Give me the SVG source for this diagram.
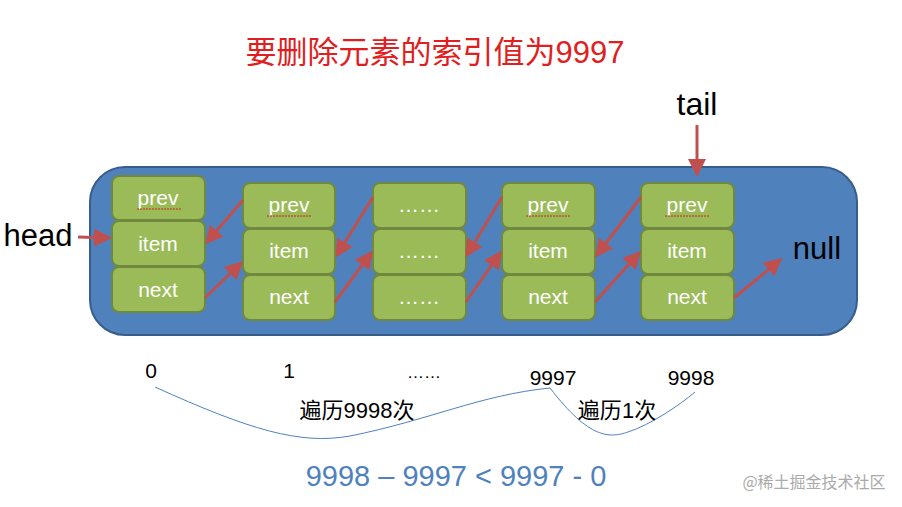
<svg xmlns="http://www.w3.org/2000/svg" width="902" height="507" viewBox="0 0 902 507">
<style>
.c{fill:#9bbb59;stroke:#71893f;stroke-width:2}
.t{font-family:"Liberation Sans","Noto Sans CJK SC",sans-serif;fill:#fff;font-size:21px;text-anchor:middle}
.a{stroke:#c0504d;stroke-width:3;fill:none;marker-end:url(#m)}
.k{font-family:"Liberation Sans","Noto Sans CJK SC",sans-serif;fill:#000;text-anchor:middle}
.sq{stroke:#d02020;stroke-width:1;fill:none;stroke-dasharray:2 1}
</style>
<defs><marker id="m" markerWidth="6" markerHeight="6" refX="5" refY="3" orient="auto"><path d="M0,0L6,3L0,6z" fill="#c0504d"/></marker></defs>
<rect width="902" height="507" fill="#fff"/>
<text x="435" y="63" font-size="31" fill="#e02020" text-anchor="middle" font-family="'Noto Sans CJK SC',sans-serif">要删除元素的索引值为<tspan font-family="'Liberation Sans',sans-serif">9997</tspan></text>
<rect id="container" x="90" y="167" width="767" height="168" rx="35" fill="#4f81bd" stroke="#385d8a" stroke-width="2"/>
<g id="n0"><rect class="c" x="112" y="176" width="93" height="44" rx="7"/><rect class="c" x="112" y="221" width="93" height="45" rx="7"/><rect class="c" x="112" y="267" width="93" height="45" rx="7"/>
<text class="t" x="158" y="205">prev</text><text class="t" x="158" y="251">item</text><text class="t" x="158" y="297">next</text><path class="sq" d="M137,209h44"/></g>
<g id="n1"><rect class="c" x="243" y="183" width="92" height="45" rx="7"/><rect class="c" x="243" y="229" width="92" height="45" rx="7"/><rect class="c" x="243" y="275" width="92" height="45" rx="7"/>
<text class="t" x="289" y="212">prev</text><text class="t" x="289" y="258" font-size="18">item</text><text class="t" x="289" y="304">next</text><path class="sq" d="M267,216h44"/></g>
<g id="n2"><rect class="c" x="373" y="183" width="93" height="45" rx="7"/><rect class="c" x="373" y="229" width="93" height="45" rx="7"/><rect class="c" x="373" y="275" width="93" height="45" rx="7"/>
<text class="t" x="419" y="212" font-size="16">……</text><text class="t" x="419" y="258" font-size="14">……</text><text class="t" x="419" y="304" font-size="16">……</text></g>
<g id="n3"><rect class="c" x="502" y="183" width="93" height="45" rx="7"/><rect class="c" x="502" y="229" width="93" height="45" rx="7"/><rect class="c" x="502" y="275" width="93" height="45" rx="7"/>
<text class="t" x="548" y="212">prev</text><text class="t" x="548" y="258" font-size="18">item</text><text class="t" x="548" y="304">next</text><path class="sq" d="M526,216h44"/></g>
<g id="n4"><rect class="c" x="641" y="183" width="93" height="45" rx="7"/><rect class="c" x="641" y="229" width="93" height="45" rx="7"/><rect class="c" x="641" y="275" width="93" height="45" rx="7"/>
<text class="t" x="687" y="212">prev</text><text class="t" x="687" y="258" font-size="18">item</text><text class="t" x="687" y="304">next</text><path class="sq" d="M665,216h44"/></g>
<text class="k" x="38" y="246" font-size="31">head</text>
<text class="k" x="697" y="115" font-size="32">tail</text>
<text class="k" x="817" y="259" font-size="31">null</text>
<g id="connectors">
<path class="a" d="M78,237L109,238"/>
<path class="a" d="M697,125L697,174"/>
<path class="a" d="M243,200L207,242"/>
<path class="a" d="M205,298L241,263"/>
<path class="a" d="M373,197L337,255"/>
<path class="a" d="M335,302L371,253"/>
<path class="a" d="M502,197L467,255"/>
<path class="a" d="M466,302L500,253"/>
<path class="a" d="M641,197L597,255"/>
<path class="a" d="M595,302L639,253"/>
<path class="a" d="M734,298L780,260"/>
<path d="M155,387C250,430 300,445 350,436C430,420 480,395 550,388" fill="none" stroke="#4f81bd" stroke-width="1"/>
<path d="M550,388C590,440 610,438 628,432C650,425 680,405 695,392" fill="none" stroke="#4f81bd" stroke-width="1"/>
</g>
<g><text class="k" x="151" y="378" font-size="21">0</text><text class="k" x="289" y="378" font-size="21">1</text><text class="k" x="424" y="378" font-size="17">……</text><text class="k" x="553" y="385" font-size="21">9997</text><text class="k" x="691" y="385" font-size="21">9998</text></g>
<text class="k" x="357" y="418" font-size="22" font-family="'Noto Sans CJK SC',sans-serif">遍历<tspan font-family="'Liberation Sans',sans-serif">9998</tspan>次</text>
<text class="k" x="617" y="418" font-size="22" font-family="'Noto Sans CJK SC',sans-serif">遍历<tspan font-family="'Liberation Sans',sans-serif">1</tspan>次</text>
<text x="456" y="486" font-size="29" fill="#4f81bd" text-anchor="middle" font-family="'Liberation Sans',sans-serif">9998 – 9997 &lt; 9997 - 0</text>
<text x="814" y="488" font-size="16" fill="#aaa" text-anchor="middle" font-family="'Noto Sans CJK SC',sans-serif">@稀土掘金技术社区</text>
</svg>
